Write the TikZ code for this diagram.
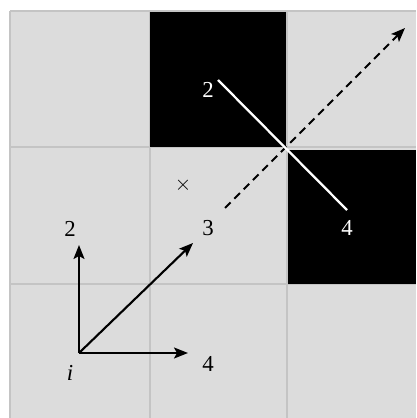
\documentclass[tikz,border=0pt]{standalone}
\usepackage{fontspec}
\setmainfont{Liberation Serif}
\usetikzlibrary{arrows.meta}
\definecolor{cellgray}{HTML}{DCDCDC}
\definecolor{gridgray}{HTML}{C4C4C4}
\begin{document}
\begin{tikzpicture}[x=0.02cm,y=-0.02cm,
  lbl/.style={font=\fontsize{13}{15}\selectfont, inner sep=0pt},
  wlbl/.style={lbl, text=white},
  vec/.style={line width=1.2pt, -{Stealth[length=2.8mm,width=2.2mm,inset=0.6mm]}},
  dashvec/.style={vec, dashed, dash pattern=on 4.5pt off 3pt},
  wline/.style={white, line width=1.3pt},
  gridline/.style={gridgray, line width=0.9pt}]
\useasboundingbox (0,0) rectangle (416,418);
\fill[white] (0,0) rectangle (416,418);
\fill[cellgray] (10,11) rectangle (416,418);
\draw[gridline] (10,11) -- (10,418);
\draw[gridline] (10,11) -- (416,11);
\draw[gridline] (150,11) -- (150,418);
\draw[gridline] (287,11) -- (287,418);
\draw[gridline] (10,147) -- (416,147);
\draw[gridline] (10,284) -- (416,284);
\fill[black] (150,12) rectangle (286,147);
\fill[black] (288,150) rectangle (416,284);
% coordinates
\coordinate (o) at (79,353);
\coordinate (up) at (79,245);
\coordinate (right) at (188,353);
\coordinate (diag) at (193,243);
\coordinate (ds) at (225,208);
\coordinate (de) at (405,28);
\coordinate (ws) at (218,80);
\coordinate (we) at (347,210);
% arrows
\draw[vec] (o) -- (up);
\draw[vec] (o) -- (right);
\draw[vec] (o) -- (diag);
\draw[dashvec] (ds) -- (de);
\draw[wline] (ws) -- (we);
% labels
\node[lbl] (l2) at (70,229) {2};
\node[lbl] (l3) at (208,228) {3};
\node[lbl] (l4) at (208,364) {4};
\node[lbl] (li) at (70,373) {\textit{i}};
\node[lbl] (lx) at (183,185) {$\times$};
\node[wlbl] (w2) at (208,90) {2};
\node[wlbl] (w4) at (347,228) {4};
\end{tikzpicture}
\end{document}
